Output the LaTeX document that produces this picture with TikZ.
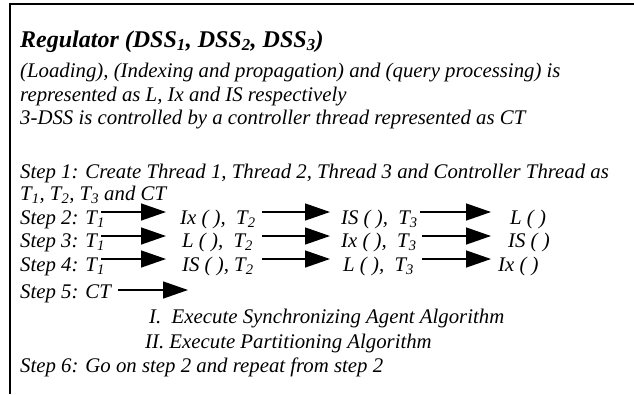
\documentclass[tikz,border=0pt]{standalone}
\usepackage{fontspec}
\setmainfont{Liberation Serif}
\usetikzlibrary{arrows.meta}
\begin{document}
\begin{tikzpicture}[x=1bp,y=-1bp,
  txt/.style={anchor=base west, inner sep=0pt, font=\fontsize{20.8bp}{24bp}\selectfont\itshape},
  ttl/.style={anchor=base west, inner sep=0pt, font=\fontsize{24bp}{28bp}\selectfont\bfseries\itshape},
  arr/.style={line width=1.4bp, -{Triangle[length=25bp,width=17bp]}},
  frame/.style={line width=2.2bp}]
\useasboundingbox (0,0) rectangle (634,394);
% frame
\coordinate (fr1) at (634,4);
\coordinate (fr2) at (10,4);
\coordinate (fr3) at (10,394);
\draw[frame] (fr1) -- (fr2) -- (fr3);
% header
\node[ttl] (title) at (20,47) {Regulator (DSS\textsubscript{1}, DSS\textsubscript{2}, DSS\textsubscript{3})};
\node[txt] (l2) at (20,77) {(Loading), (Indexing and propagation) and (query processing) is};
\node[txt] (l3) at (20,101) {represented as L, Ix and IS respectively};
\node[txt] (l4) at (20,124) {3-DSS is controlled by a controller thread represented as CT};
% step 1
\node[txt] (s1) at (20,178) {Step 1: Create Thread 1, Thread 2, Thread 3 and Controller Thread as};
\node[txt] (s1b) at (20,200) {T\textsubscript{1}, T\textsubscript{2}, T\textsubscript{3} and CT};
% step 2
\node[txt] (s2a) at (20,224) {Step 2: T\textsubscript{1}};
\node[txt] (s2b) at (180,224) {Ix ( ),\ \ T\textsubscript{2}};
\node[txt] (s2c) at (341,224) {IS ( ),\ \ T\textsubscript{3}};
\node[txt] (s2d) at (510,224) {L ( )};
\coordinate (a21s) at (101,212); \coordinate (a21e) at (166,212);
\coordinate (a22s) at (262,212); \coordinate (a22e) at (330,212);
\coordinate (a23s) at (420,212); \coordinate (a23e) at (491,212);
\draw[arr] (a21s) -- (a21e);
\draw[arr] (a22s) -- (a22e);
\draw[arr] (a23s) -- (a23e);
% step 3
\node[txt] (s3a) at (20,247) {Step 3: T\textsubscript{1}};
\node[txt] (s3b) at (182,247) {L ( ),\ \ T\textsubscript{2}};
\node[txt] (s3c) at (341,247) {Ix ( ),\ \ T\textsubscript{3}};
\node[txt] (s3d) at (508,247) {IS ( )};
\coordinate (a31s) at (101,236); \coordinate (a31e) at (166,236);
\coordinate (a32s) at (262,236); \coordinate (a32e) at (330,236);
\coordinate (a33s) at (422,236); \coordinate (a33e) at (491,236);
\draw[arr] (a31s) -- (a31e);
\draw[arr] (a32s) -- (a32e);
\draw[arr] (a33s) -- (a33e);
% step 4
\node[txt] (s4a) at (20,271) {Step 4: T\textsubscript{1}};
\node[txt] (s4b) at (182,271) {IS ( ), T\textsubscript{2}};
\node[txt] (s4c) at (343,271) {L ( ),\ \ T\textsubscript{3}};
\node[txt] (s4d) at (498,271) {Ix ( )};
\coordinate (a41s) at (101,259); \coordinate (a41e) at (166,259);
\coordinate (a42s) at (262,259); \coordinate (a42e) at (330,259);
\coordinate (a43s) at (422,259); \coordinate (a43e) at (491,259);
\draw[arr] (a41s) -- (a41e);
\draw[arr] (a42s) -- (a42e);
\draw[arr] (a43s) -- (a43e);
% step 5
\node[txt] (s5) at (20,298) {Step 5: CT};
\coordinate (a5s) at (118,290); \coordinate (a5e) at (188,290);
\draw[arr] (a5s) -- (a5e);
\node[txt] (i1) at (149,323) {I.\ \ Execute Synchronizing Agent Algorithm};
\node[txt] (i2) at (145,348) {II. Execute Partitioning Algorithm};
% step 6
\node[txt] (s6) at (20,372) {Step 6: Go on step 2 and repeat from step 2};
\end{tikzpicture}
\end{document}
